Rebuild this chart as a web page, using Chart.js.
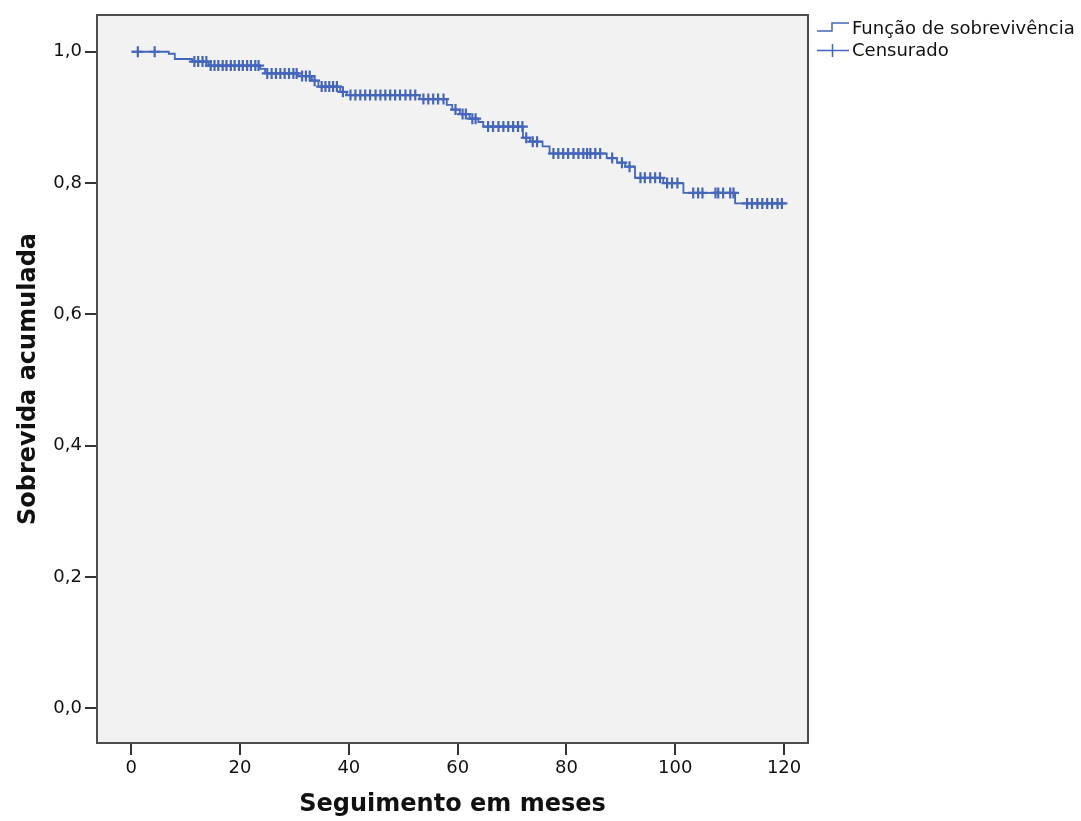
<!DOCTYPE html>
<html>
<head>
<meta charset="utf-8">
<script src="https://cdn.jsdelivr.net/npm/chart.js@4"></script>
<style>
  html, body { margin: 0; padding: 0; background: #fff; }
  canvas { display: block; }
</style>
</head>
<body>
<canvas id="km" width="1081" height="821"></canvas>
<script>
// Kaplan-Meier: event times (months) and survival after each event
const eventTimes = [6.9, 8.0, 11.2, 14.2, 23.7, 24.6, 30.7, 33.2, 34.4, 38.4, 39.6, 53.0,
    58.0, 59.0, 60.4, 62.2, 63.8, 64.7, 72.0, 73.3, 75.6, 76.9, 87.4, 89.3, 90.8, 92.6,
    97.8, 101.5, 111.0];
const eventSurv = [0.997, 0.989, 0.985, 0.979, 0.974, 0.967, 0.963, 0.956, 0.947, 0.939, 0.934, 0.928,
    0.919, 0.912, 0.905, 0.898, 0.893, 0.886, 0.869, 0.863, 0.856, 0.845, 0.838, 0.831, 0.825, 0.808,
    0.800, 0.785, 0.769];
const lastFollowUp = 120.2;

// censored observations (months)
const censorTimes = [1.2, 4.3,
    11.6, 12.3, 13.1, 13.8,
    14.6, 15.3, 16.0, 16.8, 17.5, 18.3, 19.0, 19.8, 20.5, 21.3, 22.0, 22.8, 23.4,
    25.0, 25.8, 26.6, 27.4, 28.2, 29.0, 29.8, 30.4,
    31.4, 32.1, 32.8, 33.7,
    35.0, 35.7, 36.4, 37.1, 37.8, 38.9,
    40.3, 41.2, 42.1, 43.0, 43.9, 44.9, 45.8, 46.7, 47.6, 48.5, 49.4, 50.4, 51.3, 52.2,
    53.7, 54.6, 55.5, 56.4, 57.4,
    59.6, 60.9, 61.5, 62.7, 63.3,
    65.6, 66.5, 67.5, 68.4, 69.3, 70.2, 71.1, 71.9,
    72.6, 73.8, 74.6,
    77.6, 78.5, 79.4, 80.3, 81.3, 82.2, 83.1, 83.8, 84.4, 85.3, 86.2,
    88.4, 90.2, 91.6,
    93.6, 94.4, 95.4, 96.3, 97.2,
    98.5, 99.4, 100.4,
    103.3, 104.2, 105.0, 107.4, 107.9, 108.8, 110.1, 110.7,
    113.2, 114.1, 115.1, 116.0, 116.9, 117.8, 118.8, 119.6];

const xTicks = [0, 20, 40, 60, 80, 100, 120];
const yTicks = [0, 0.2, 0.4, 0.6, 0.8, 1.0];

const blue = '#4466bb';
const font = 'DejaVu Sans';

function survivalAt(t) {
    let s = 1;
    for (let i = 0; i < eventTimes.length; i++) {
        if (eventTimes[i] <= t) s = eventSurv[i];
    }
    return s;
}

const curve = [{ x: 0, y: 1 }];
eventTimes.forEach((t, i) => curve.push({ x: t, y: eventSurv[i] }));
curve.push({ x: lastFollowUp, y: eventSurv[eventSurv.length - 1] });

const censors = censorTimes.map(t => ({ x: t, y: survivalAt(t) }));

const plotFrame = {
    id: 'plotFrame',
    beforeDraw(chart) {
        const { ctx, chartArea: a } = chart;
        ctx.save();
        ctx.fillStyle = '#f2f2f2';
        ctx.fillRect(a.left, a.top, a.right - a.left, a.bottom - a.top);
        ctx.restore();
    },
    beforeDatasetsDraw(chart) {
        const { ctx, chartArea: a } = chart;
        ctx.save();
        ctx.strokeStyle = '#4d4d4d';
        ctx.lineWidth = 2;
        ctx.strokeRect(a.left, a.top, a.right - a.left, a.bottom - a.top);
        ctx.restore();
    }
};

const sideLegend = {
    id: 'sideLegend',
    afterDraw(chart) {
        const ctx = chart.ctx;
        ctx.save();
        ctx.strokeStyle = blue;
        ctx.lineWidth = 1.5;
        // step icon
        ctx.beginPath();
        ctx.moveTo(817, 31);
        ctx.lineTo(832, 31);
        ctx.lineTo(832, 23);
        ctx.lineTo(849, 23);
        ctx.stroke();
        // cross icon
        ctx.beginPath();
        ctx.moveTo(817, 50.5);
        ctx.lineTo(849, 50.5);
        ctx.moveTo(832.5, 44);
        ctx.lineTo(832.5, 57);
        ctx.stroke();
        ctx.fillStyle = '#111';
        ctx.font = '18px "' + font + '"';
        ctx.textBaseline = 'middle';
        ctx.fillText('Função de sobrevivência', 852, 29);
        ctx.fillText('Censurado', 852, 51);
        ctx.restore();
    }
};

new Chart(document.getElementById('km'), {
    type: 'scatter',
    data: {
        datasets: [
            {
                label: 'Função de sobrevivência',
                data: curve,
                showLine: true,
                stepped: 'before',
                borderColor: blue,
                borderWidth: 1.8,
                pointRadius: 0,
                fill: false
            },
            {
                label: 'Censurado',
                data: censors,
                showLine: false,
                pointStyle: 'cross',
                pointRadius: 5.5,
                pointBorderWidth: 2.2,
                borderColor: blue,
                backgroundColor: blue
            }
        ]
    },
    plugins: [plotFrame, sideLegend],
    options: {
        responsive: false,
        animation: false,
        events: [],
        layout: {
            padding: { left: 0, top: 15, right: 273, bottom: 0 }
        },
        plugins: {
            legend: { display: false },
            tooltip: { enabled: false }
        },
        scales: {
            x: {
                type: 'linear',
                min: -6.3,
                max: 124.4,
                afterBuildTicks: (scale) => { scale.ticks = xTicks.map(v => ({ value: v })); },
                afterFit: (scale) => { scale.height = 78; },
                border: { display: false },
                grid: { drawOnChartArea: false, drawTicks: true, tickLength: 12, color: '#333', lineWidth: 2 },
                ticks: {
                    color: '#111',
                    padding: 3,
                    font: { family: font, size: 18 }
                },
                title: {
                    display: true,
                    text: 'Seguimento em meses',
                    color: '#111',
                    font: { family: font, size: 24, weight: 'bold' },
                    padding: { top: 0, bottom: 2 }
                }
            },
            y: {
                type: 'linear',
                min: -0.053,
                max: 1.056,
                afterBuildTicks: (scale) => { scale.ticks = yTicks.map(v => ({ value: v })); },
                afterFit: (scale) => { scale.width = 97; },
                border: { display: false },
                grid: { drawOnChartArea: false, drawTicks: true, tickLength: 12, color: '#333', lineWidth: 2 },
                ticks: {
                    color: '#111',
                    padding: 3,
                    font: { family: font, size: 18 },
                    callback: (v) => v.toFixed(1).replace('.', ',')
                },
                title: {
                    display: true,
                    text: 'Sobrevida acumulada',
                    color: '#111',
                    font: { family: font, size: 24, weight: 'bold' },
                    padding: { top: 14, bottom: 0 }
                }
            }
        }
    }
});
</script>
</body>
</html>
